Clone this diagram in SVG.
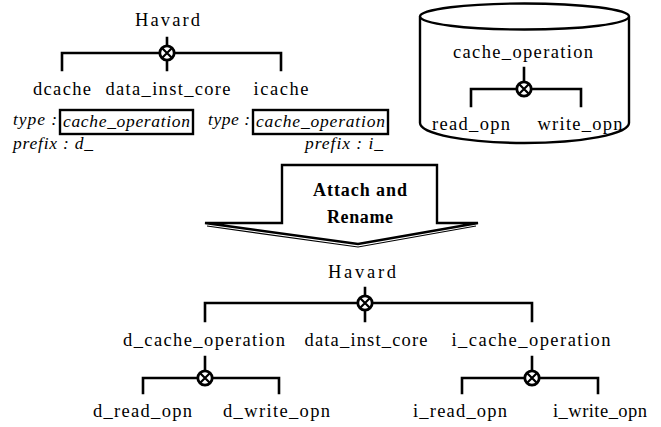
<svg xmlns="http://www.w3.org/2000/svg" width="661" height="427" viewBox="0 0 661 427">
  <defs>
    <style>
      .lbl { font-family: "Liberation Serif", "DejaVu Serif", serif; font-size: 18.5px; fill: #000; }
      .ital { font-family: "Liberation Serif", "DejaVu Serif", serif; font-style: italic; font-size: 17.5px; fill: #000; }
      .bold { font-family: "Liberation Serif", "DejaVu Serif", serif; font-weight: bold; font-size: 18px; fill: #000; }
      .wire { fill: none; stroke: #000; stroke-width: 2.6; stroke-linecap: square; stroke-linejoin: miter; }
      .frame { fill: #fff; stroke: #000; stroke-width: 2.4; }
      .xor circle { fill: #fff; stroke: #000; stroke-width: 2.8; }
      .xor path { stroke: #000; stroke-width: 2.2; }
    </style>
    <!-- exclusive-or junction symbol -->
    <g id="xorSym" class="xor">
      <circle cx="0" cy="0" r="7.2"/>
      <path d="M-5,-5 L5,5 M-5,5 L5,-5"/>
    </g>
  </defs>

  <rect width="661" height="427" fill="#fff"/>

  <!-- library store (drawn first so its tree sits on top) -->
  <g id="cache_operation-store">
    <path class="frame" d="M420,16.5 V123 A104.5,20 0 0 0 629,123 V16.5"/>
    <ellipse class="frame" cx="524.5" cy="16.5" rx="104.5" ry="13"/>
    <text class="lbl" x="523" y="58" text-anchor="middle" textLength="140" lengthAdjust="spacing">cache_operation</text>
    <text class="lbl" x="471" y="130" text-anchor="middle" textLength="78" lengthAdjust="spacing">read_opn</text>
    <text class="lbl" x="580" y="130" text-anchor="middle" textLength="85" lengthAdjust="spacing">write_opn</text>
  </g>

  <!-- source model -->
  <g id="havard-src">
    <text class="lbl" x="167.5" y="26" text-anchor="middle" textLength="65" lengthAdjust="spacing">Havard</text>
  </g>
  <g id="dcache">
    <text class="lbl" x="62" y="95" text-anchor="middle" textLength="58" lengthAdjust="spacing">dcache</text>
    <text class="ital" x="13" y="125" textLength="44" lengthAdjust="spacing">type :</text>
    <rect class="frame" x="60" y="110" width="133" height="24" fill="none"/>
    <text class="ital" x="63" y="127" textLength="127" lengthAdjust="spacing">cache_operation</text>
    <text class="ital" x="13" y="149" textLength="80" lengthAdjust="spacing">prefix : d_</text>
  </g>
  <g id="data_inst_core-src">
    <text class="lbl" x="168" y="95" text-anchor="middle" textLength="125" lengthAdjust="spacing">data_inst_core</text>
  </g>
  <g id="icache">
    <text class="lbl" x="281" y="95" text-anchor="middle" textLength="55" lengthAdjust="spacing">icache</text>
    <text class="ital" x="208" y="125" textLength="42" lengthAdjust="spacing">type :</text>
    <rect class="frame" x="253" y="110" width="135" height="24" fill="none"/>
    <text class="ital" x="256" y="127" textLength="129" lengthAdjust="spacing">cache_operation</text>
    <text class="ital" x="305" y="149" textLength="78" lengthAdjust="spacing">prefix : i_</text>
  </g>

  <!-- transformation step -->
  <g id="attach-rename">
    <path class="frame" d="M282,165 H437 V223 H478 L358,244 L205,223 H282 Z"/>
    <path d="M207,226 L358,247 L476,226" fill="none" stroke="#000" stroke-width="1.2"/>
    <text class="bold" x="360" y="196" text-anchor="middle" textLength="94" lengthAdjust="spacing">Attach and</text>
    <text class="bold" x="360" y="223" text-anchor="middle" textLength="66" lengthAdjust="spacing">Rename</text>
  </g>

  <!-- resulting model -->
  <g id="havard-out">
    <text class="lbl" x="362" y="278" text-anchor="middle" textLength="68" lengthAdjust="spacing">Havard</text>
  </g>
  <g id="d_cache_operation">
    <text class="lbl" x="204" y="346" text-anchor="middle" textLength="162" lengthAdjust="spacing">d_cache_operation</text>
  </g>
  <g id="data_inst_core-out">
    <text class="lbl" x="366" y="346" text-anchor="middle" textLength="123" lengthAdjust="spacing">data_inst_core</text>
  </g>
  <g id="i_cache_operation">
    <text class="lbl" x="531" y="346" text-anchor="middle" textLength="159" lengthAdjust="spacing">i_cache_operation</text>
  </g>
  <g id="d_read_opn">
    <text class="lbl" x="142.5" y="417" text-anchor="middle" textLength="99" lengthAdjust="spacing">d_read_opn</text>
  </g>
  <g id="d_write_opn">
    <text class="lbl" x="276.5" y="417" text-anchor="middle" textLength="107" lengthAdjust="spacing">d_write_opn</text>
  </g>
  <g id="i_read_opn">
    <text class="lbl" x="460" y="417" text-anchor="middle" textLength="94" lengthAdjust="spacing">i_read_opn</text>
  </g>
  <g id="i_write_opn">
    <text class="lbl" x="600" y="417" text-anchor="middle" textLength="94" lengthAdjust="spacing">i_write_opn</text>
  </g>

  <!-- connectors -->
  <g id="connectors">
    <!-- Havard (top) -->
    <path class="wire" d="M167,38 V70 M62,70 V53 H281 V70"/>
    <!-- cache_operation (library) -->
    <path class="wire" d="M524,68 V89 M471,106 V89 H581 V106"/>
    <!-- Havard (result) -->
    <path class="wire" d="M365,288 V321 M205,321 V303 H532 V321"/>
    <!-- d_cache_operation -->
    <path class="wire" d="M205,357 V378 M143,393 V378 H279 V393"/>
    <!-- i_cache_operation -->
    <path class="wire" d="M532,357 V378 M462,393 V378 H598 V393"/>
    <use href="#xorSym" x="167" y="53"/>
    <use href="#xorSym" x="524" y="89"/>
    <use href="#xorSym" x="365" y="303"/>
    <use href="#xorSym" x="205" y="378"/>
    <use href="#xorSym" x="532" y="378"/>
  </g>
</svg>
